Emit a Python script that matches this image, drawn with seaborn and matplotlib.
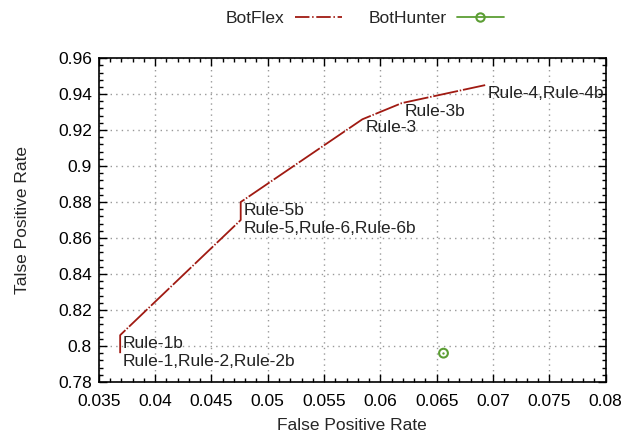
import pandas as pd
import matplotlib
matplotlib.use("Agg")
import matplotlib.pyplot as plt
import seaborn as sns
from matplotlib.lines import Line2D
from matplotlib.ticker import MultipleLocator

# BotFlex rule points (in path order)
flex_fpr = [0.0369, 0.0369, 0.0476, 0.0476, 0.0584, 0.0619, 0.0693]
flex_tpr = [0.796, 0.806, 0.870, 0.880, 0.926, 0.935, 0.945]
flex_labels = ["Rule-1,Rule-2,Rule-2b", "Rule-1b", "Rule-5,Rule-6,Rule-6b",
               "Rule-5b", "Rule-3", "Rule-3b", "Rule-4,Rule-4b"]

# BotHunter single point
hunter_fpr = [0.0656]
hunter_tpr = [0.796]

x_ticks = [0.035, 0.04, 0.045, 0.05, 0.055, 0.06, 0.065, 0.07, 0.075, 0.08]
x_ticklabels = ['0.035', '0.04', '0.045', '0.05', '0.055', '0.06',
                '0.065', '0.07', '0.075', '0.08']
y_ticks = [0.78, 0.80, 0.82, 0.84, 0.86, 0.88, 0.90, 0.92, 0.94, 0.96]
y_ticklabels = ['0.78', '0.8', '0.82', '0.84', '0.86', '0.88', '0.9',
                '0.92', '0.94', '0.96']

RED = '#a01a12'
GREEN = '#5c9e34'

sns.set_style("ticks")
plt.rcParams['font.family'] = ['Liberation Sans', 'DejaVu Sans']

flex = pd.DataFrame({'fpr': flex_fpr, 'tpr': flex_tpr})
hunter = pd.DataFrame({'fpr': hunter_fpr, 'tpr': hunter_tpr})

fig = plt.figure(figsize=(6.29, 4.37), dpi=100)
ax = fig.add_axes([0.157, 0.126, 0.806, 0.741])

sns.lineplot(data=flex, x='fpr', y='tpr', sort=False, estimator=None, ax=ax,
             color=RED, linewidth=1.3, legend=False)
ax.lines[-1].set_dashes((14, 1.0, 0.8, 1.0))
sns.scatterplot(data=hunter, x='fpr', y='tpr', ax=ax, s=40, marker='o',
                facecolor='none', edgecolor=GREEN, linewidth=1.5, legend=False)
sns.scatterplot(data=hunter, x='fpr', y='tpr', ax=ax, s=3, color=GREEN,
                linewidth=0, legend=False)

for x, y, t in zip(flex_fpr, flex_tpr, flex_labels):
    ax.annotate(t, (x, y), xytext=(2, -6), textcoords='offset points',
                ha='left', va='center', fontsize=12.5, color='#222222')

ax.set_xlim(0.035, 0.08)
ax.set_ylim(0.78, 0.96)
ax.set_xticks(x_ticks)
ax.set_xticklabels(x_ticklabels)
ax.set_yticks(y_ticks)
ax.set_yticklabels(y_ticklabels)
ax.xaxis.set_minor_locator(MultipleLocator(0.001))
ax.yaxis.set_minor_locator(MultipleLocator(0.004))
ax.tick_params(which='both', direction='in', top=True, right=True,
               labelsize=12.5, colors='black')
ax.tick_params(axis='x', pad=9)
ax.tick_params(axis='y', pad=5)
ax.tick_params(which='major', length=6, width=1)
ax.tick_params(which='minor', length=3, width=1)
ax.grid(True, which='major', linestyle=(0, (1, 3)), color='#999999', linewidth=1)
for s in ax.spines.values():
    s.set_linewidth(1.2)
    s.set_color('black')

ax.set_xlabel('False Positive Rate', fontsize=12.5, labelpad=6)
ax.set_ylabel('Talse Positive Rate', fontsize=12.5, labelpad=20)

handles = [
    Line2D([], [], color=RED, linewidth=1.3, dashes=(8, 1.5, 0.8, 1.5)),
    Line2D([], [], color=GREEN, linewidth=1.3, marker='o', markersize=6,
           markerfacecolor='none', markeredgewidth=1.5),
]
fig.legend(handles, ['BotFlex', 'BotHunter'], loc='upper center',
           bbox_to_anchor=(0.58, 1.01), ncol=2, frameon=False, markerfirst=False,
           fontsize=12.5, handlelength=2.7, columnspacing=1.5, handletextpad=0.6)

fig.savefig('out.png', dpi=100)
